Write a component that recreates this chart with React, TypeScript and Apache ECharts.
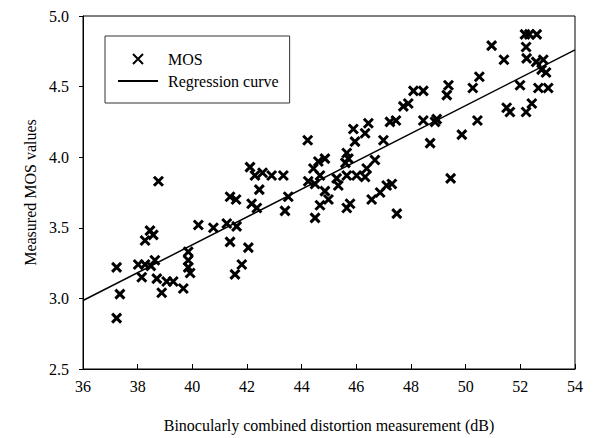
import React, { useEffect, useRef } from "react";
import * as echarts from "echarts";

// Scatter data: binocularly combined distortion (dB) vs measured MOS
const mosX: number[] = [
  37.23, 37.35, 37.23,
  38.76, 38.27, 38.45, 38.57,
  38.02, 38.27, 38.63, 38.48,
  38.15, 38.7, 38.88, 39.06, 39.3, 39.67,
  39.85, 39.85, 39.85, 39.92,
  40.22, 40.77, 41.26, 41.62, 41.38, 42.05, 41.81, 41.56,
  41.38, 41.6, 42.17, 42.36, 42.45, 42.11, 42.29, 42.57, 42.9,
  43.33, 43.51, 43.39, 44.22,
  44.43, 44.61, 44.85, 44.24, 44.67, 44.49, 44.85, 44.98, 44.67, 44.49,
  45.28, 45.34, 45.65, 45.65, 45.71, 45.6, 46.01, 46.32, 46.38, 46.68,
  45.77, 45.65, 45.95, 45.89, 46.32, 46.44, 46.99,
  46.56, 46.87, 47.11, 47.3, 47.48,
  47.23, 47.45, 47.72, 47.9, 48.09, 48.45, 48.45, 48.88, 48.94, 48.7,
  49.45, 49.86, 50.43, 50.5, 50.26, 49.37, 49.31, 50.95, 51.4, 51.5, 51.62,
  51.99, 52.17, 52.33, 52.6, 52.21, 52.23, 52.58, 52.84, 52.78, 52.94,
  52.66, 53.02, 52.21, 52.42,
];
const mosY: number[] = [
  2.86, 3.03, 3.22,
  3.83, 3.41, 3.48, 3.45,
  3.24, 3.24, 3.27, 3.23,
  3.15, 3.14, 3.04, 3.12, 3.12, 3.07,
  3.33, 3.27, 3.22, 3.18,
  3.52, 3.5, 3.53, 3.51, 3.4, 3.36, 3.24, 3.17,
  3.72, 3.7, 3.67, 3.64, 3.77, 3.93, 3.87, 3.89, 3.87,
  3.87, 3.72, 3.62, 4.12,
  3.92, 3.97, 3.99, 3.83, 3.87, 3.81, 3.76, 3.7, 3.66, 3.57,
  3.85, 3.8, 3.87, 4.03, 3.99, 3.96, 3.87, 3.86, 3.92, 3.98,
  3.67, 3.64, 4.11, 4.2, 4.17, 4.24, 4.12,
  3.7, 3.75, 3.8, 3.81, 3.6,
  4.25, 4.26, 4.36, 4.38, 4.47, 4.47, 4.26, 4.25, 4.27, 4.1,
  3.85, 4.16, 4.26, 4.57, 4.49, 4.51, 4.44, 4.79, 4.69, 4.35, 4.32,
  4.51, 4.87, 4.87, 4.87, 4.78, 4.7, 4.675, 4.69, 4.62, 4.6,
  4.49, 4.49, 4.32, 4.38,
];

// Regression line end points
const regressionX: number[] = [36, 54];
const regressionY: number[] = [2.985, 4.76];

const xTickMin = 36;
const xTickMax = 54;
const yTickMin = 2.5;
const yTickMax = 5.0;

const FONT = "'Liberation Serif', 'Times New Roman', serif";
const X_SYMBOL = "path://M0,0L10,10M10,0L0,10";

export default function App() {
  const ref = useRef<HTMLDivElement>(null);

  useEffect(() => {
    if (!ref.current) return;
    const chart = echarts.init(ref.current, undefined, { renderer: "svg" });
    const scatterData = mosX.map((x, i) => [x, mosY[i]]);
    const lineData = regressionX.map((x, i) => [x, regressionY[i]]);

    chart.setOption({
      animation: false,
      backgroundColor: "#ffffff",
      textStyle: { fontFamily: FONT, color: "#000" },
      grid: {
        left: 83,
        right: 20,
        top: 16,
        bottom: 68,
        show: true,
        borderColor: "#000",
        borderWidth: 1,
      },
      legend: {
        orient: "vertical",
        left: 105,
        top: 36,
        width: 193,
        padding: [15, 11, 14, 12],
        itemWidth: 40,
        itemHeight: 10,
        itemGap: 6,
        borderColor: "#333",
        borderWidth: 1,
        backgroundColor: "#fff",
        textStyle: {
          fontFamily: FONT,
          fontSize: 16,
          color: "#000",
          lineHeight: 16,
          padding: [0, 0, 0, 5],
        },
        data: [
          { name: "MOS" },
          { name: "Regression curve", itemStyle: { opacity: 0 } },
        ],
      },
      xAxis: {
        type: "value",
        min: xTickMin,
        max: xTickMax,
        interval: 2,
        name: "Binocularly combined distortion measurement (dB)",
        nameLocation: "middle",
        nameGap: 48,
        nameTextStyle: { fontFamily: FONT, fontSize: 16, color: "#000" },
        axisLine: { show: true, onZero: false, lineStyle: { color: "#000", width: 1 } },
        axisTick: { show: true, inside: true, length: 5, lineStyle: { color: "#000" } },
        axisLabel: { fontFamily: FONT, fontSize: 16, color: "#000", margin: 9 },
        splitLine: { show: false },
      },
      yAxis: {
        type: "value",
        min: yTickMin,
        max: yTickMax,
        interval: 0.5,
        name: "Measured MOS values",
        nameLocation: "middle",
        nameGap: 40,
        nameRotate: 90,
        nameTextStyle: { fontFamily: FONT, fontSize: 16, color: "#000" },
        axisLine: { show: true, onZero: false, lineStyle: { color: "#000", width: 1 } },
        axisTick: { show: true, inside: false, length: 4, lineStyle: { color: "#000" } },
        axisLabel: {
          fontFamily: FONT,
          fontSize: 16,
          color: "#000",
          margin: 14,
          formatter: (v: number) => v.toFixed(1),
        },
        splitLine: { show: false },
      },
      series: [
        {
          name: "MOS",
          type: "scatter",
          data: scatterData,
          symbol: X_SYMBOL,
          symbolSize: 9,
          itemStyle: { color: "#000", borderColor: "#000", borderWidth: 3, opacity: 1 },
          z: 3,
        },
        {
          name: "Regression curve",
          type: "line",
          data: lineData,
          symbol: "none",
          showSymbol: false,
          itemStyle: { color: "#000" },
          lineStyle: { color: "#000", width: 1.5 },
          z: 2,
        },
      ],
    });

    return () => {
      chart.dispose();
    };
  }, []);

  return (
    <div
      ref={ref}
      style={{ position: "absolute", left: 0, top: 0, width: 595, height: 438 }}
    />
  );
}
